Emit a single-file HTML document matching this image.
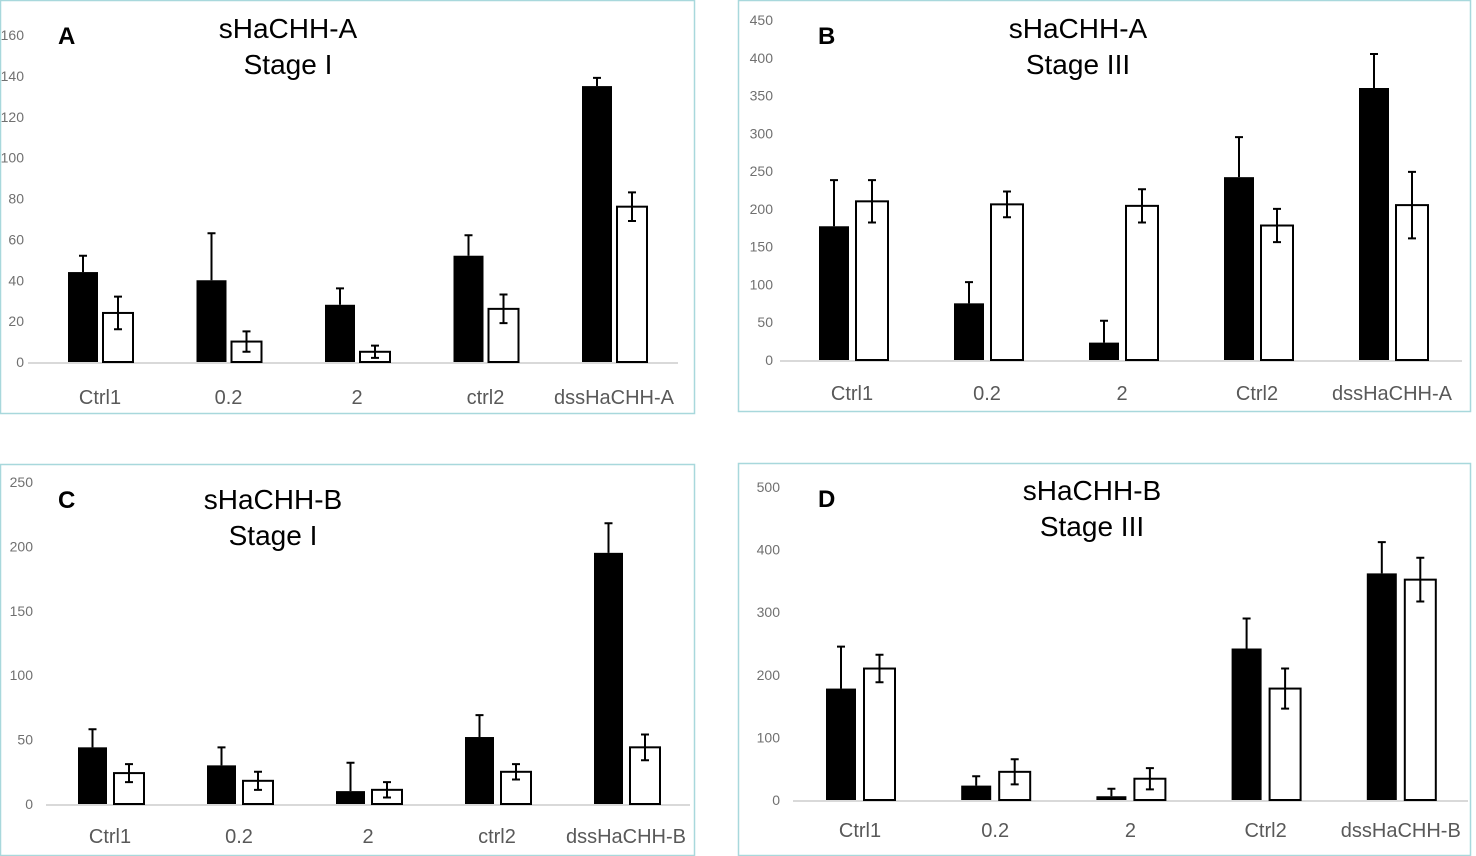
<!DOCTYPE html>
<html><head><meta charset="utf-8">
<style>
body{margin:0;background:#fff;width:1476px;height:856px;overflow:hidden;font-family:"Liberation Sans",sans-serif;}
svg{display:block}
</style></head>
<body>
<svg id="fig" width="1476" height="856" viewBox="0 0 1476 856" xmlns="http://www.w3.org/2000/svg"></svg>
<script>
// Panel A: sHaCHH-A Stage I
const catsA = ["Ctrl1","0.2","2","ctrl2","dssHaCHH-A"];
const blackA = [44,40,28,52,135];
const blackErrA = [8,23,8,10,4];
const whiteA = [24,10,5,26,76];
const whiteErrA = [8,5,3,7,7];
const ticksA = [0,20,40,60,80,100,120,140,160];
// Panel B: sHaCHH-A Stage III
const catsB = ["Ctrl1","0.2","2","Ctrl2","dssHaCHH-A"];
const blackB = [177,75,23,242,360];
const blackErrB = [61,28,29,53,45];
const whiteB = [210,206,204,178,205];
const whiteErrB = [28,17,22,22,44];
const ticksB = [0,50,100,150,200,250,300,350,400,450];
// Panel C: sHaCHH-B Stage I
const catsC = ["Ctrl1","0.2","2","ctrl2","dssHaCHH-B"];
const blackC = [44,30,10,52,195];
const blackErrC = [14,14,22,17,23];
const whiteC = [24,18,11,25,44];
const whiteErrC = [7,7,6,6,10];
const ticksC = [0,50,100,150,200,250];
// Panel D: sHaCHH-B Stage III
const catsD = ["Ctrl1","0.2","2","Ctrl2","dssHaCHH-B"];
const blackD = [178,23,6,242,362];
const blackErrD = [67,15,12,48,50];
const whiteD = [210,45,34,178,352];
const whiteErrD = [22,20,17,32,35];
const ticksD = [0,100,200,300,400,500];

const NS="http://www.w3.org/2000/svg";
const svg=document.getElementById('fig');
function mk(tag,attrs,parent){const e=document.createElementNS(NS,tag);for(const k in attrs)e.setAttribute(k,attrs[k]);(parent||svg).appendChild(e);return e;}

function panel(p){
  const g=mk('g',{});
  
  
  const box=mk('rect',{x:p.bx+0.5,y:p.by+0.5,width:p.bw,height:p.bh,fill:'none',stroke:'#a8d8dc','stroke-width':1.5},g);
  
  
  const tmax=p.ticks[p.ticks.length-1];
  const y=v=>p.y0-(v/tmax)*(p.y0-p.ytop);
  p.ticks.forEach(t=>{
    const tx=mk('text',{x:p.tickX,y:y(t)+5,'text-anchor':'end','font-size':14,fill:'#707070'},g);
    tx.textContent=t;
    
    
  });
  const ax=mk('line',{x1:p.axL,x2:p.axR,y1:p.y0+1,y2:p.y0+1,stroke:'#d9d9d9','stroke-width':2},g);
  
  
  const x=i=>p.c0+i*p.step;
  p.cats.forEach((c,i)=>{
    const cx=x(i);
    // black bar
    const bt=y(p.black[i]);
    const b=mk('rect',{x:cx-p.bOff,y:bt,width:p.bw1,height:p.y0-bt,fill:'#000'},g);
    
    
    const bcx=cx-p.bOff+p.bw1/2, be=y(p.black[i]+p.blackErr[i]);
    const e1=mk('path',{d:`M${bcx},${bt} V${be} M${bcx-4},${be} H${bcx+4}`,stroke:'#000','stroke-width':2,fill:'none'},g);
    
    
    // white bar
    const wt=y(p.white[i]);
    const wx=cx+p.wOff;
    const w=mk('rect',{x:wx,y:wt,width:p.bw2,height:p.y0-wt,fill:'#fff',stroke:'#000','stroke-width':2},g);
    
    
    const wcx=wx+p.bw2/2, wu=y(p.white[i]+p.whiteErr[i]), wl=y(p.white[i]-p.whiteErr[i]);
    const e2=mk('path',{d:`M${wcx},${wu} V${wl} M${wcx-4},${wu} H${wcx+4} M${wcx-4},${wl} H${wcx+4}`,stroke:'#000','stroke-width':2,fill:'none'},g);
    
    
    const lb=mk('text',{x:cx,y:p.labY,'text-anchor':'middle','font-size':20,fill:'#595959'},g);
    lb.textContent=c;
    
    
  });
  const L=mk('text',{x:p.bx+p.letterX,y:p.by+44,'font-size':24,'font-weight':'bold',fill:'#000'},g);
  L.textContent=p.letter;
  
  
  p.title.forEach((t,k)=>{
    const tt=mk('text',{x:p.titleX,y:p.titleY+k*36,'text-anchor':'middle','font-size':28,fill:'#000'},g);
    tt.textContent=t;
    
    
  });
}

panel({letter:'A',bx:0,by:0,bw:694,bh:413,ticks:ticksA,y0:362,ytop:35,tickX:24,axL:28,axR:678,
  cats:catsA,black:blackA,blackErr:blackErrA,white:whiteA,whiteErr:whiteErrA,
  c0:100,step:128.5,bOff:32,bw1:30,wOff:3,bw2:30,labY:404,letterX:58,title:['sHaCHH-A','Stage I'],titleX:288,titleY:38});
panel({letter:'B',bx:738,by:0,bw:732,bh:411,ticks:ticksB,y0:360,ytop:20,tickX:773,axL:780,axR:1462,
  cats:catsB,black:blackB,blackErr:blackErrB,white:whiteB,whiteErr:whiteErrB,
  c0:852,step:135,bOff:33,bw1:30,wOff:4,bw2:32,labY:400,letterX:80,title:['sHaCHH-A','Stage III'],titleX:1078,titleY:38});
panel({letter:'C',bx:0,by:464,bw:694,bh:391,ticks:ticksC,y0:804,ytop:482,tickX:33,axL:46,axR:690,
  cats:catsC,black:blackC,blackErr:blackErrC,white:whiteC,whiteErr:whiteErrC,
  c0:110,step:129,bOff:32,bw1:29,wOff:4,bw2:30,labY:843,letterX:58,title:['sHaCHH-B','Stage I'],titleX:273,titleY:509});
panel({letter:'D',bx:738,by:463,bw:732,bh:392,ticks:ticksD,y0:800,ytop:487,tickX:780,axL:793,axR:1468,
  cats:catsD,black:blackD,blackErr:blackErrD,white:whiteD,whiteErr:whiteErrD,
  c0:860,step:135.2,bOff:34,bw1:30,wOff:4,bw2:31,labY:837,letterX:80,title:['sHaCHH-B','Stage III'],titleX:1092,titleY:500});
</script>
</body></html>
